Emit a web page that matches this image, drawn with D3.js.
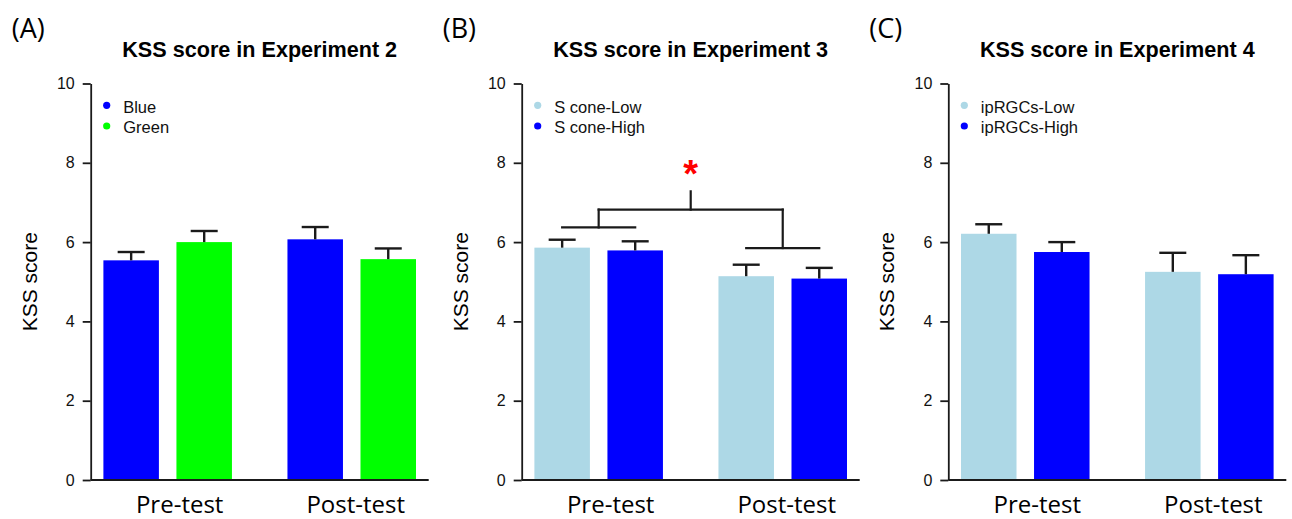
<!DOCTYPE html>
<html>
<head>
<meta charset="utf-8">
<script src="https://cdn.jsdelivr.net/npm/d3@7"></script>
<style>
  body { margin: 0; background: #fff; }
  svg { display: block; }
  .tick text { font-family: "Liberation Sans", Arial, sans-serif; font-size: 16px; fill: #111; }
</style>
</head>
<body>
<div id="chart"></div>
<script>
// data (means and top of the error bars)
var groups = ["Pre-test", "Post-test"];
var yTicks = [0, 2, 4, 6, 8, 10];
var panelTags = ["(A)", "(B)", "(C)"];
var titles = ["KSS score in Experiment 2", "KSS score in Experiment 3", "KSS score in Experiment 4"];

var exp2Series = ["Blue", "Green"];
var exp2Mean = [[5.54, 6.07], [6.00, 5.57]];   // [series][group]
var exp2Upper = [[5.75, 6.38], [6.28, 5.84]];

var exp3Series = ["S cone-Low", "S cone-High"];
var exp3Mean = [[5.86, 5.14], [5.79, 5.08]];
var exp3Upper = [[6.06, 5.43], [6.02, 5.35]];

var exp4Series = ["ipRGCs-Low", "ipRGCs-High"];
var exp4Mean = [[6.21, 5.25], [5.75, 5.19]];
var exp4Upper = [[6.45, 5.73], [6.00, 5.67]];

// significance bracket in panel B: left group, right group, bridge, stem top
var exp3Bracket = [6.37, 5.85, 6.82, 7.28];

var width = 1292, height = 519;

var panels = [
  { x: 90.7, series: exp2Series, mean: exp2Mean, upper: exp2Upper, colors: ["#0000ff", "#00ff00"] },
  { x: 521.7, series: exp3Series, mean: exp3Mean, upper: exp3Upper, colors: ["#add8e6", "#0000ff"], bracket: exp3Bracket },
  { x: 948.3, series: exp4Series, mean: exp4Mean, upper: exp4Upper, colors: ["#add8e6", "#0000ff"] }
];

var svg = d3.select("#chart").append("svg")
    .attr("width", width)
    .attr("height", height);

var y = d3.scaleLinear().domain([0, 10]).range([480, 83.5]);

var plotW = 338;
var x0 = d3.scaleBand().domain(groups).range([0, plotW])
    .paddingInner(0.3016).paddingOuter(0.069);
var x1 = d3.scaleBand().domain([0, 1]).range([0, x0.bandwidth()])
    .paddingInner(0.24).paddingOuter(0);

var labelShift = [12, 4]; // group labels sit a bit right of the bar pairs
var capW = 27;

panels.forEach(function(p, i) {
  var g = svg.append("g").attr("transform", "translate(" + p.x + ",0)");

  // panel letter
  g.append("text")
    .attr("x", -79).attr("y", 38)
    .style("font-family", "'Open Sans', sans-serif")
    .style("font-size", "27px")
    .attr("fill", "#000")
    .text(panelTags[i]);

  // title
  g.append("text")
    .attr("x", plotW / 2).attr("y", 57)
    .attr("text-anchor", "middle")
    .style("font-family", "'Liberation Sans', Arial, sans-serif")
    .style("font-weight", "bold")
    .style("font-size", "21.6px")
    .attr("fill", "#000")
    .text(titles[i]);

  // bars
  var cells = [];
  p.series.forEach(function(s, si) {
    groups.forEach(function(gr, gi) {
      cells.push({ s: si, g: gr, mean: p.mean[si][gi], upper: p.upper[si][gi] });
    });
  });

  g.selectAll(".bar")
    .data(cells)
    .enter().append("rect")
    .attr("class", "bar")
    .attr("x", function(d) { return x0(d.g) + x1(d.s); })
    .attr("width", x1.bandwidth())
    .attr("y", function(d) { return y(d.mean); })
    .attr("height", function(d) { return y(0) - y(d.mean); })
    .attr("fill", function(d) { return p.colors[d.s]; });

  // error bars (upper only)
  var eb = g.selectAll(".err")
    .data(cells)
    .enter().append("g")
    .attr("class", "err")
    .attr("transform", function(d) { return "translate(" + (x0(d.g) + x1(d.s) + x1.bandwidth() / 2) + ",0)"; })
    .attr("stroke", "#1a1a1a")
    .attr("stroke-width", 2.4);
  eb.append("line")
    .attr("x1", 0).attr("x2", 0)
    .attr("y1", function(d) { return y(d.mean); })
    .attr("y2", function(d) { return y(d.upper); });
  eb.append("line")
    .attr("x1", -capW / 2).attr("x2", capW / 2)
    .attr("y1", function(d) { return y(d.upper); })
    .attr("y2", function(d) { return y(d.upper); });

  // y axis
  var ax = g.append("g")
    .call(d3.axisLeft(y).tickValues(yTicks).tickSize(8).tickSizeOuter(0).tickPadding(8));
  ax.select(".domain").attr("stroke", "#1a1a1a").attr("stroke-width", 1.8);
  ax.selectAll(".tick line").attr("stroke", "#1a1a1a").attr("stroke-width", 1.8);

  // x baseline
  g.append("line")
    .attr("x1", 0).attr("x2", plotW)
    .attr("y1", y(0)).attr("y2", y(0))
    .attr("stroke", "#1a1a1a").attr("stroke-width", 1.8);

  // y label
  g.append("text")
    .attr("transform", "translate(-54," + (y(0) + y(10)) / 2 + ") rotate(-90)")
    .attr("text-anchor", "middle")
    .style("font-family", "'Liberation Sans', Arial, sans-serif")
    .style("font-size", "21px")
    .attr("fill", "#000")
    .text("KSS score");

  // group labels
  g.selectAll(".glabel")
    .data(groups)
    .enter().append("text")
    .attr("class", "glabel")
    .attr("x", function(d, gi) { return x0(d) + x0.bandwidth() / 2 + labelShift[gi]; })
    .attr("y", 513)
    .attr("text-anchor", "middle")
    .style("font-family", "'Open Sans', sans-serif")
    .style("font-size", "24px")
    .attr("fill", "#000")
    .text(function(d) { return d; });

  // legend
  var lg = g.selectAll(".leg")
    .data(p.series)
    .enter().append("g")
    .attr("class", "leg")
    .attr("transform", function(d, si) { return "translate(16," + (105.3 + si * 20.7) + ")"; });
  lg.append("circle").attr("r", 3.6).attr("fill", function(d, si) { return p.colors[si]; });
  lg.append("text")
    .attr("x", 16.5).attr("y", 7.2)
    .style("font-family", "'Liberation Sans', Arial, sans-serif")
    .style("font-size", "16.5px")
    .attr("fill", "#111")
    .text(function(d) { return d; });

  // significance bracket
  if (p.bracket) {
    var b = p.bracket;
    var c0 = x0(groups[0]) + x0.bandwidth() / 2;
    var c1 = x0(groups[1]) + x0.bandwidth() / 2;
    var bc = function(gr, s) { return x0(gr) + x1(s) + x1.bandwidth() / 2; };
    var mid = (c0 + c1) / 2;
    var segs = [
      [bc(groups[0], 0), b[0], bc(groups[0], 1), b[0]],
      [bc(groups[1], 0), b[1], bc(groups[1], 1), b[1]],
      [c0, b[0], c0, b[2]],
      [c1, b[1], c1, b[2]],
      [c0, b[2], c1, b[2]],
      [mid, b[2], mid, b[3]]
    ];
    g.selectAll(".brk")
      .data(segs)
      .enter().append("line")
      .attr("class", "brk")
      .attr("x1", function(d) { return d[0]; })
      .attr("y1", function(d) { return y(d[1]); })
      .attr("x2", function(d) { return d[2]; })
      .attr("y2", function(d) { return y(d[3]); })
      .attr("stroke", "#1a1a1a")
      .attr("stroke-width", 2.2)
      .attr("stroke-linecap", "square");
    g.append("text")
      .attr("x", mid).attr("y", y(b[3]) - 4)
      .attr("text-anchor", "middle")
      .style("font-family", "'Liberation Sans', Arial, sans-serif")
      .style("font-weight", "bold")
      .style("font-size", "38px")
      .attr("fill", "#ff0000")
      .text("*");
  }
});
</script>
</body>
</html>
